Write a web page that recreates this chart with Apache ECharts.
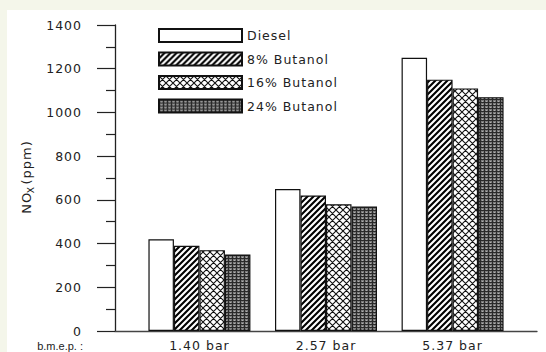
<!DOCTYPE html>
<html>
<head>
<meta charset="utf-8">
<script src="https://cdn.jsdelivr.net/npm/echarts@6/dist/echarts.min.js"></script>
<style>
  html, body { margin: 0; padding: 0; background: #f4f6ea; }
  #paper { position: absolute; left: 7px; top: 10px; right: 0; bottom: 0; background: #ffffff; }
  #chart { position: absolute; left: 0; top: 0; width: 546px; height: 352px; }
  #chart text { letter-spacing: 1px; }
</style>
</head>
<body>
<div id="paper"></div>
<div id="chart"></div>
<script>
// Engine loads (brake mean effective pressure)
const loads = ['1.40 bar', '2.57 bar', '5.37 bar'];
const loadPositions = [1, 2, 3];

// NOx emissions (ppm) for each fuel blend
const fuels = ['Diesel', '8% Butanol', '16% Butanol', '24% Butanol'];
const diesel = [420, 650, 1250];
const butanol8 = [390, 620, 1150];
const butanol16 = [370, 580, 1110];
const butanol24 = [350, 570, 1070];

const yTicks = [0, 200, 400, 600, 800, 1000, 1200, 1400];
const loadAxisTitle = 'b.m.e.p. :';

// ---- fill patterns ----
function tile(w, h, draw) {
  const c = document.createElement('canvas');
  c.width = w; c.height = h;
  const ctx = c.getContext('2d');
  draw(ctx, w, h);
  return { image: c, repeat: 'repeat' };
}
const solidWhite = '#ffffff';
const diagonal = tile(6, 6, (ctx, w, h) => {
  ctx.fillStyle = '#fff'; ctx.fillRect(0, 0, w, h);
  ctx.strokeStyle = '#000'; ctx.lineWidth = 2.1;
  ctx.beginPath();
  ctx.moveTo(-3, 3); ctx.lineTo(3, -3);
  ctx.moveTo(0, 6); ctx.lineTo(6, 0);
  ctx.moveTo(3, 9); ctx.lineTo(9, 3);
  ctx.stroke();
});
const crossHatch = tile(7, 7, (ctx, w, h) => {
  ctx.fillStyle = '#fff'; ctx.fillRect(0, 0, w, h);
  ctx.strokeStyle = '#111'; ctx.lineWidth = 1.1;
  ctx.beginPath();
  ctx.moveTo(0, 0); ctx.lineTo(7, 7);
  ctx.moveTo(-1, 6); ctx.lineTo(1, 8);
  ctx.moveTo(6, -1); ctx.lineTo(8, 1);
  ctx.moveTo(0, 7); ctx.lineTo(7, 0);
  ctx.moveTo(-1, 1); ctx.lineTo(1, -1);
  ctx.moveTo(6, 8); ctx.lineTo(8, 6);
  ctx.stroke();
});
const denseDark = tile(4, 3, (ctx, w, h) => {
  ctx.fillStyle = '#7c7c7c'; ctx.fillRect(0, 0, w, h);
  ctx.fillStyle = '#2a2a2a';
  ctx.fillRect(0, 0, 4, 1);
  ctx.fillRect(0, 1, 1, 2);
  ctx.fillStyle = '#b0b0b0';
  ctx.fillRect(2, 2, 1, 1);
});

const fills = [solidWhite, diagonal, crossHatch, denseDark];
const values = [diesel, butanol8, butanol16, butanol24];

const textColor = '#222';
const fontFamily = '"DejaVu Sans", "Liberation Sans", sans-serif';

const series = fuels.map((name, i) => ({
  name: name,
  type: 'bar',
  barWidth: 25.5,
  barGap: '0%',
  data: loadPositions.map((x, j) => [x, values[i][j]]),
  itemStyle: {
    color: fills[i],
    borderColor: '#111',
    borderWidth: 1.2
  },
  emphasis: { disabled: true }
}));

const chart = echarts.init(document.getElementById('chart'), null, { renderer: 'svg' });
chart.setOption({
  animation: false,
  backgroundColor: 'transparent',
  textStyle: { fontFamily: fontFamily, color: textColor },
  grid: { left: 115, right: 9, top: 25, bottom: 21, containLabel: false },
  legend: {
    orient: 'vertical',
    left: 158,
    top: 28,
    padding: 0,
    itemWidth: 83,
    itemHeight: 13,
    itemGap: 8.5,
    icon: 'rect',
    selectedMode: false,
    data: fuels,
    textStyle: { fontSize: 12.5, lineHeight: 13, color: textColor, fontFamily: fontFamily }
  },
  xAxis: {
    type: 'value',
    min: 0.333,
    max: 3.667,
    name: loadAxisTitle,
    nameLocation: 'start',
    nameGap: 32,
    nameTextStyle: { fontSize: 11, color: textColor, fontFamily: '"Liberation Sans", Arial, sans-serif', verticalAlign: 'top', padding: [9, 0, 0, 0] },
    axisLine: { show: true, lineStyle: { color: '#444', width: 1.3 } },
    axisTick: { show: false },
    splitLine: { show: false },
    axisLabel: {
      customValues: loadPositions,
      margin: 8,
      fontSize: 12.5,
      color: textColor,
      formatter: (v) => {
        const k = loadPositions.indexOf(Math.round(v));
        return k >= 0 ? loads[k] : '';
      }
    }
  },
  yAxis: {
    type: 'value',
    min: yTicks[0],
    max: yTicks[yTicks.length - 1],
    interval: 200,
    name: 'NO{sub|X} (ppm)',
    nameLocation: 'middle',
    nameGap: 80,
    nameRotate: 90,
    nameTextStyle: {
      fontSize: 13,
      color: textColor,
      rich: {
        sub: { fontSize: 9, verticalAlign: 'bottom', lineHeight: 18, padding: [5, 0, 0, 0] }
      }
    },
    axisLine: { show: true, lineStyle: { color: '#222', width: 1.3 } },
    axisTick: { show: true, inside: false, length: 18, lineStyle: { color: '#222', width: 1.2 } },
    minorTick: { show: true, splitNumber: 2, length: 9, lineStyle: { color: '#222', width: 1.2 } },
    splitLine: { show: false },
    axisLabel: { margin: 33, fontSize: 12.5, color: textColor, formatter: (v) => String(v) }
  },
  series: series
});

// the load-axis title is set tight, without the extra tracking of the other labels
document.querySelectorAll('#chart text').forEach((t) => {
  if (t.textContent.trim() === loadAxisTitle) t.style.setProperty('letter-spacing', '0px');
});
</script>
</body>
</html>
